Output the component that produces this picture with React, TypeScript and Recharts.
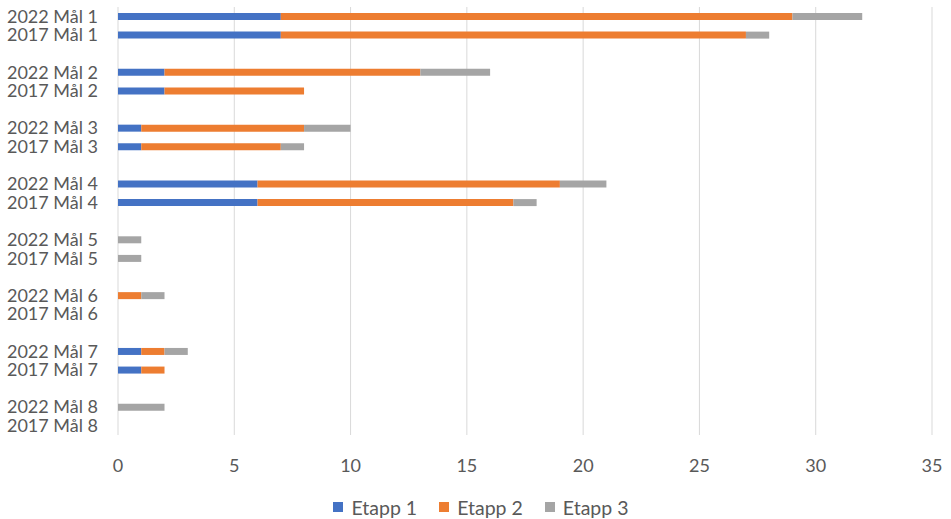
import { BarChart, Bar, XAxis, YAxis, CartesianGrid, Legend } from "recharts"

// rows top to bottom, blank strings are the spacer rows between goals
const rowLabels = [
  "2022 Mål 1", "2017 Mål 1", "",
  "2022 Mål 2", "2017 Mål 2", "",
  "2022 Mål 3", "2017 Mål 3", "",
  "2022 Mål 4", "2017 Mål 4", "",
  "2022 Mål 5", "2017 Mål 5", "",
  "2022 Mål 6", "2017 Mål 6", "",
  "2022 Mål 7", "2017 Mål 7", "",
  "2022 Mål 8", "2017 Mål 8",
]
const etapp1 = [7, 7, null, 2, 2, null, 1, 1, null, 6, 6, null, 0, 0, null, 0, 0, null, 1, 1, null, 0, 0]
const etapp2 = [22, 20, null, 11, 6, null, 7, 6, null, 13, 11, null, 0, 0, null, 1, 0, null, 1, 1, null, 0, 0]
const etapp3 = [3, 1, null, 3, 0, null, 2, 1, null, 2, 1, null, 1, 1, null, 1, 0, null, 1, 0, null, 2, 0]
const xTicks = [0, 5, 10, 15, 20, 25, 30, 35]

const SERIES = [
  { key: "e1", name: "Etapp 1", color: "#4472C4" },
  { key: "e2", name: "Etapp 2", color: "#ED7D31" },
  { key: "e3", name: "Etapp 3", color: "#A5A5A5" },
]

const data = rowLabels.map((label, i) => ({
  key: `r${i}`,
  label,
  e1: etapp1[i],
  e2: etapp2[i],
  e3: etapp3[i],
}))

const TEXT = "#595959"

function LegendContent() {
  return (
    <div style={{ display: "flex", justifyContent: "center", alignItems: "center", height: 24, paddingLeft: 30, fontFamily: "Lato, sans-serif" }}>
      {SERIES.map((s, i) => (
        <div key={s.key} style={{ display: "flex", alignItems: "center", marginLeft: i === 0 ? 0 : 22 }}>
          <span style={{ width: 10, height: 10, background: s.color, display: "inline-block", marginRight: 8 }} />
          <span style={{ color: TEXT, fontSize: 19.5 }}>{s.name}</span>
        </div>
      ))}
    </div>
  )
}

export default function App() {
  return (
    <div style={{ position: "absolute", left: 0, top: 0, width: 951, height: 519, background: "#fff", fontFamily: "Lato, sans-serif" }}>
      <BarChart
        width={951}
        height={519}
        data={data}
        layout="vertical"
        margin={{ top: 7, right: 19, bottom: 0, left: 0 }}
        barSize={7}
      >
        <CartesianGrid horizontal={false} vertical stroke="#d9d9d9" />
        <XAxis
          type="number"
          domain={[0, 35]}
          ticks={xTicks}
          axisLine={false}
          tickLine={false}
          tickSize={0}
          tickMargin={24}
          height={60}
          tick={{ fill: TEXT, fontSize: 18 }}
        />
        <YAxis
          type="category"
          dataKey="key"
          width={118}
          interval={0}
          axisLine={false}
          tickLine={false}
          tickSize={0}
          tickMargin={20}
          tickFormatter={(_v: string, i: number) => rowLabels[i]}
          tick={{ fill: TEXT, fontSize: 18 }}
        />
        <Legend verticalAlign="bottom" height={24} content={<LegendContent />} />
        {SERIES.map((s) => (
          <Bar key={s.key} dataKey={s.key} name={s.name} stackId="a" fill={s.color} isAnimationActive={false} />
        ))}
      </BarChart>
    </div>
  )
}
